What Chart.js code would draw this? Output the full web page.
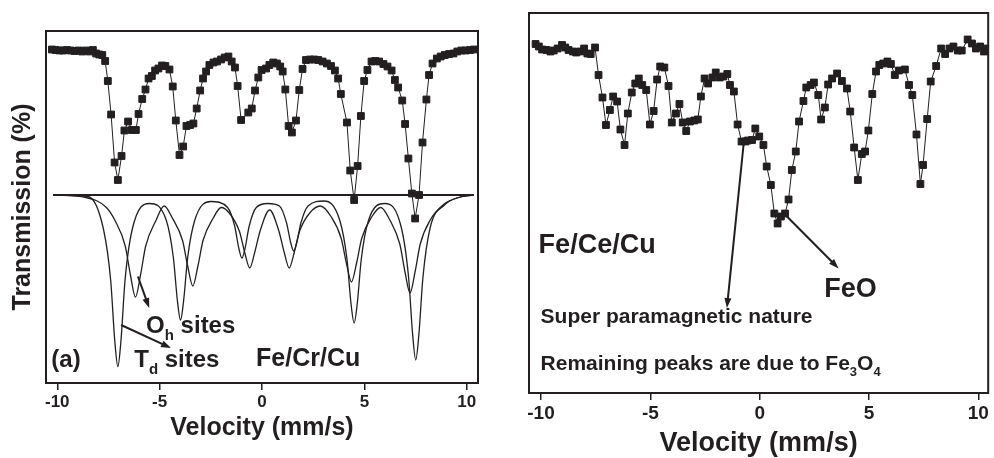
<!DOCTYPE html>
<html>
<head>
<meta charset="utf-8">
<script src="https://cdn.jsdelivr.net/npm/chart.js@4.4.0/dist/chart.umd.min.js"></script>
<style>
  body { margin: 0; background: #fff; }
  #wrap { position: relative; width: 994px; height: 458px; }
  canvas { position: absolute; top: 0; }
</style>
</head>
<body>
<div id="wrap">
  <canvas id="left" width="490" height="458" style="left:0"></canvas>
  <canvas id="right" width="494" height="458" style="left:500px"></canvas>
</div>
<script>
const INK = '#231f20';
const FONT = '"Liberation Sans", Arial, Helvetica, sans-serif';

// tick labels shared by both panels (mm/s)
const xTicks = [-10, -5, 0, 5, 10];

// (a) Fe/Cr/Cu measured spectrum
const crVelocity = [-10.26, -10.08, -9.89, -9.71, -9.53, -9.35, -9.15, -8.96, -8.78, -8.60, -8.42, -8.26, -8.10, -7.95, -7.80, -7.66,
  -7.53, -7.37, -7.20, -7.04, -6.86, -6.72, -6.54, -6.36, -6.16, -6.03, -5.85, -5.69, -5.54, -5.38, -5.22, -5.06, -4.88, -4.72,
  -4.52, -4.36, -4.21, -4.03, -3.85, -3.69, -3.51, -3.35, -3.19, -3.02, -2.88, -2.73, -2.57, -2.37, -2.20, -2.00, -1.82, -1.64,
  -1.48, -1.32, -1.19, -1.02, -0.67, -0.50, -0.34, -0.18, -0.02, 0.20, 0.36, 0.55, 0.73, 0.89, 1.01, 1.14, 1.30, 1.46, 1.66,
  1.82, 1.98, 2.15, 2.34, 2.55, 2.75, 2.96, 3.17, 3.37, 3.56, 3.72, 3.85, 4.15, 4.31, 4.50, 4.67, 4.83, 4.99, 5.15, 5.35, 5.53,
  5.72, 5.93, 6.13, 6.33, 6.49, 6.65, 6.85, 6.99, 7.15, 7.32, 7.48, 7.67, 7.84, 8.03, 8.16, 8.33, 8.54, 8.73, 8.93, 9.14, 9.35,
  9.54, 9.74, 9.95, 10.16, 10.36];
const crTransmission = [100.01, 100.00, 99.99, 99.99, 100.00, 99.99, 99.98, 99.99, 99.97, 99.99, 99.97, 100.00, 99.93, 99.91, 99.90, 99.78,
  99.38, 98.71, 97.75, 97.40, 97.88, 98.39, 98.57, 98.40, 98.40, 98.72, 99.02, 99.21, 99.43, 99.48, 99.59, 99.63, 99.69, 99.68,
  99.61, 99.27, 98.59, 97.90, 98.07, 98.48, 98.50, 98.53, 98.83, 99.19, 99.43, 99.57, 99.70, 99.75, 99.77, 99.81, 99.85, 99.87,
  99.77, 99.65, 99.28, 98.60, 98.75, 98.83, 99.19, 99.45, 99.60, 99.63, 99.70, 99.75, 99.73, 99.67, 99.57, 99.21, 98.48, 98.35, 98.59,
  99.20, 99.62, 99.80, 99.81, 99.81, 99.80, 99.77, 99.73, 99.68, 99.59, 99.43, 99.12, 98.55, 97.59, 97.00, 97.68, 98.68, 99.38, 99.60, 99.77, 99.78,
  99.77, 99.72, 99.67, 99.59, 99.40, 99.25, 98.99, 98.52, 97.83, 97.13, 96.63, 97.10, 98.15, 99.01, 99.50, 99.73, 99.83, 99.87, 99.90, 99.92, 99.93,
  99.97, 99.99, 99.99, 100.00, 100.01];

// (a) fitted sub-spectra
const tdVelocity = [-10.2, -8.5, -7.74, -7.39, -7.19, -7.04, -6.89, -6.69, -6.34, -5.5, -4.68, -4.33, -4.13, -3.98, -3.83, -3.63, -3.28,
  -2.5, -1.68, -1.33, -1.13, -0.98, -0.83, -0.63, -0.28, 0.28, 0.85, 1.20, 1.40, 1.55, 1.70, 1.90, 2.25, 3.03, 3.80, 4.15, 4.35, 4.50,
  4.65, 4.85, 5.20, 6.0, 6.81, 7.16, 7.36, 7.51, 7.66, 7.86, 8.21, 8.91, 9.6, 10.34];
const tdTransmission = [97.10, 97.07, 96.41, 95.39, 94.18, 93.67, 94.18, 95.39, 96.41, 96.93, 96.60, 95.85, 94.98, 94.60, 94.98, 95.85, 96.60,
  96.97, 96.85, 96.47, 96.03, 95.84, 96.03, 96.47, 96.85, 96.93, 96.88, 96.54, 96.15, 95.98, 96.15, 96.54, 96.88, 96.98, 96.59, 95.82, 94.92, 94.54,
  94.92, 95.82, 96.59, 96.93, 96.44, 95.45, 94.30, 93.80, 94.30, 95.45, 96.44, 96.90, 97.05, 97.10];
const ohVelocity = [-10.2, -8.6, -7.6, -7.18, -6.68, -6.43, -6.18, -5.93, -5.68, -5.18, -4.78, -4.38, -3.88, -3.63, -3.38, -3.13, -2.88,
  -2.38, -1.99, -1.60, -1.10, -0.85, -0.60, -0.35, -0.10, 0.37, 0.83, 1.08, 1.33, 1.58, 1.83, 2.33, 2.85, 3.37, 3.87, 4.12, 4.37, 4.62,
  4.87, 5.37, 5.80, 6.23, 6.73, 6.98, 7.23, 7.48, 7.73, 8.23, 8.9, 9.6, 10.34];
const ohTransmission = [97.10, 97.05, 96.85, 96.59, 96.08, 95.51, 95.06, 95.51, 96.08, 96.59, 96.88, 96.64, 96.19, 95.68, 95.28, 95.68, 96.19,
  96.64, 96.85, 96.74, 96.37, 95.96, 95.64, 95.96, 96.37, 96.80, 96.37, 95.96, 95.64, 95.96, 96.37, 96.74, 96.88, 96.67, 96.23, 95.74, 95.36, 95.74,
  96.23, 96.67, 96.85, 96.61, 96.12, 95.57, 95.14, 95.57, 96.12, 96.61, 96.92, 97.05, 97.10];
const baseVelocity = [-10.2, 10.34];
const baseTransmission = [97.10, 97.10];

// (b) Fe/Ce/Cu measured spectrum
const ceVelocity = [-10.25, -10.10, -9.95, -9.75, -9.57, -9.42, -9.24, -9.04, -8.89, -8.74, -8.54, -8.39, -8.21, -8.03, -7.88, -7.73,
  -7.53, -7.37, -7.19, -7.03, -6.85, -6.70, -6.52, -6.37, -6.18, -6.03, -5.85, -5.69, -5.53, -5.37, -5.19, -5.02, -4.85, -4.69,
  -4.55, -4.36, -4.17, -4.02, -3.83, -3.67, -3.52, -3.36, -3.19, -2.99, -2.83, -2.69, -2.52, -2.36, -2.16, -2.01, -1.83, -1.66,
  -1.48, -1.36, -1.18, -1.01, -0.83, -0.65, -0.54, -0.35, -0.20, -0.02, 0.17, 0.32, 0.51, 0.67, 0.82, 0.97, 1.16, 1.32, 1.47,
  1.65, 1.80, 2.00, 2.13, 2.33, 2.48, 2.68, 2.81, 2.98, 3.13, 3.31, 3.54, 3.76, 3.99, 4.14, 4.32, 4.49, 4.67, 4.82, 4.97, 5.15,
  5.32, 5.47, 5.65, 5.84, 6.00, 6.18, 6.36, 6.64, 6.83, 6.98, 7.17, 7.35, 7.47, 7.66, 7.82, 8.07, 8.30, 8.48, 8.68, 8.86, 9.06,
  9.24, 9.51, 9.71, 9.89, 10.08, 10.26, 10.42];
const ceTransmission = [100.12, 100.07, 100.01, 100.00, 99.97, 99.99, 100.03, 100.10, 100.05, 100.00, 99.97, 99.95, 99.97, 100.03, 99.93, 99.92,
  100.05, 99.50, 99.05, 98.50, 98.80, 99.07, 98.97, 98.41, 98.10, 98.73, 99.15, 99.33, 99.43, 99.30, 99.20, 98.51, 98.78, 99.41,
  99.67, 99.65, 99.28, 98.55, 98.73, 98.92, 98.55, 98.38, 98.57, 98.59, 98.61, 99.07, 99.43, 99.33, 99.45, 99.55, 99.45, 99.47,
  99.52, 99.30, 99.17, 98.51, 98.17, 98.17, 98.19, 98.20, 98.43, 98.27, 98.10, 97.67, 97.30, 96.73, 96.53, 96.67, 96.73, 97.01, 97.60,
  97.97, 98.57, 98.98, 99.25, 99.30, 99.35, 99.10, 98.61, 98.85, 99.31, 99.43, 99.53, 99.38, 99.23, 98.77, 98.05, 97.40, 97.92, 97.97, 98.39, 99.12,
  99.57, 99.70, 99.73, 99.77, 99.72, 99.50, 99.59, 99.61, 99.30, 99.10, 98.31, 97.32, 97.70, 98.62, 99.37, 99.68, 100.03, 99.92, 100.03, 100.07, 99.99,
  99.99, 100.21, 100.13, 100.03, 100.07, 99.97, 100.03];

const pts = (xs, ys) => xs.map((x, i) => ({ x, y: ys[i] }));

function drawArrow(ctx, x1, y1, x2, y2) {
  const a = Math.atan2(y2 - y1, x2 - x1);
  const head = 10, half = 3.5;
  ctx.beginPath();
  ctx.moveTo(x1, y1);
  ctx.lineTo(x2 - Math.cos(a) * head * 0.7, y2 - Math.sin(a) * head * 0.7);
  ctx.stroke();
  ctx.beginPath();
  ctx.moveTo(x2, y2);
  ctx.lineTo(x2 - head * Math.cos(a) + half * Math.sin(a), y2 - head * Math.sin(a) - half * Math.cos(a));
  ctx.lineTo(x2 - head * Math.cos(a) - half * Math.sin(a), y2 - head * Math.sin(a) + half * Math.cos(a));
  ctx.closePath();
  ctx.fill();
}

// frame, arrows and text labels placed in data units
const overlay = {
  id: 'overlay',
  afterDatasetsDraw(chart, args, opts) {
    const { ctx, chartArea: a, scales: { x, y } } = chart;
    ctx.save();
    ctx.strokeStyle = INK;
    ctx.fillStyle = INK;
    ctx.lineWidth = 2;
    ctx.strokeRect(a.left, a.top, a.right - a.left, a.bottom - a.top);
    (opts.arrows || []).forEach(ar => {
      drawArrow(ctx, x.getPixelForValue(ar.from[0]), y.getPixelForValue(ar.from[1]),
        x.getPixelForValue(ar.to[0]), y.getPixelForValue(ar.to[1]));
    });
    ctx.textAlign = 'left';
    ctx.textBaseline = 'alphabetic';
    (opts.labels || []).forEach(lb => {
      let px = x.getPixelForValue(lb.x);
      const py = y.getPixelForValue(lb.y);
      lb.parts.forEach(p => {
        const size = p.sub ? Math.round(lb.size * 0.64) : lb.size;
        ctx.font = `bold ${size}px ${FONT}`;
        ctx.fillText(p.text, px, py + (p.sub ? lb.size * 0.3 : 0));
        px += ctx.measureText(p.text).width;
      });
    });
    ctx.restore();
  }
};

function xAxis(min, max, tickSize, titleSize, height, titlePad) {
  return {
    type: 'linear',
    min, max,
    afterBuildTicks: s => { s.ticks = xTicks.map(v => ({ value: v })); },
    afterFit: s => { s.height = height; },
    border: { display: false },
    grid: { display: true, drawOnChartArea: false, drawTicks: true, tickLength: 7, color: INK, lineWidth: 1.5 },
    ticks: { color: INK, font: { size: tickSize, weight: 'bold' }, padding: 2, maxRotation: 0, autoSkip: false },
    title: { display: true, text: 'Velocity (mm/s)', color: INK, font: { size: titleSize, weight: 'bold', lineHeight: 1.1 }, padding: titlePad }
  };
}

Chart.defaults.font.family = FONT;
Chart.defaults.color = INK;

const dataStyle = {
  showLine: true, borderColor: INK, borderWidth: 1, backgroundColor: INK,
  pointStyle: 'rect', pointRadius: 4.8, pointBorderWidth: 1, pointBackgroundColor: INK, pointBorderColor: INK
};
const fitStyle = {
  showLine: true, borderColor: INK, borderWidth: 1.3, pointRadius: 0, cubicInterpolationMode: 'monotone'
};

new Chart(document.getElementById('left').getContext('2d'), {
  type: 'scatter',
  data: {
    datasets: [
      { label: 'Baseline', data: pts(baseVelocity, baseTransmission), ...fitStyle, borderWidth: 2.2 },
      { label: 'Td sites', data: pts(tdVelocity, tdTransmission), ...fitStyle },
      { label: 'Oh sites', data: pts(ohVelocity, ohTransmission), ...fitStyle },
      { label: 'Fe/Cr/Cu', data: pts(crVelocity, crTransmission), ...dataStyle }
    ]
  },
  options: {
    responsive: false,
    animation: false,
    layout: { padding: { top: 31, right: 12, left: 0, bottom: 0 } },
    scales: {
      x: xAxis(-10.55, 10.55, 17, 25, 75, { top: 0, bottom: 16 }),
      y: {
        min: 93.34, max: 100.38,
        afterFit: s => { s.width = 46; },
        border: { display: false },
        grid: { display: false },
        ticks: { display: false },
        title: { display: true, text: 'Transmission (%)', color: INK, font: { size: 25, weight: 'bold', lineHeight: 1.2 }, padding: { top: 8, bottom: 0 } }
      }
    },
    plugins: {
      legend: { display: false },
      tooltip: { enabled: false },
      overlay: {
        arrows: [
          { from: [-6.06, 95.47], to: [-5.51, 94.84] },
          { from: [-6.88, 94.5], to: [-4.44, 94.04] }
        ],
        labels: [
          { x: -5.66, y: 94.34, size: 24, parts: [{ text: 'O' }, { text: 'h', sub: true }, { text: ' sites' }] },
          { x: -6.24, y: 93.66, size: 24, parts: [{ text: 'T' }, { text: 'd', sub: true }, { text: ' sites' }] },
          { x: -10.29, y: 93.66, size: 24, parts: [{ text: '(a)' }] },
          { x: -0.29, y: 93.68, size: 25, parts: [{ text: 'Fe/Cr/Cu' }] }
        ]
      }
    }
  },
  plugins: [overlay]
});

new Chart(document.getElementById('right').getContext('2d'), {
  type: 'scatter',
  data: {
    datasets: [
      { label: 'Fe/Ce/Cu', data: pts(ceVelocity, ceTransmission), ...dataStyle }
    ]
  },
  options: {
    responsive: false,
    animation: false,
    layout: { padding: { top: 13, right: 2, left: 29, bottom: 0 } },
    scales: {
      x: xAxis(-10.55, 10.45, 19, 27, 65, { top: 0, bottom: 0 }),
      y: { display: false, min: 93.14, max: 100.74 }
    },
    plugins: {
      legend: { display: false },
      tooltip: { enabled: false },
      overlay: {
        arrows: [
          { from: [-0.73, 98.14], to: [-1.50, 94.84] },
          { from: [1.18, 96.7], to: [3.61, 95.63] }
        ],
        labels: [
          { x: -10.11, y: 95.94, size: 27, parts: [{ text: 'Fe/Ce/Cu' }] },
          { x: 2.95, y: 95.06, size: 27, parts: [{ text: 'FeO' }] },
          { x: -10.02, y: 94.54, size: 21, parts: [{ text: 'Super paramagnetic nature' }] },
          { x: -10.02, y: 93.6, size: 21, parts: [{ text: 'Remaining peaks are due to Fe' }, { text: '3', sub: true }, { text: 'O' }, { text: '4', sub: true }] }
        ]
      }
    }
  },
  plugins: [overlay]
});
</script>
</body>
</html>
